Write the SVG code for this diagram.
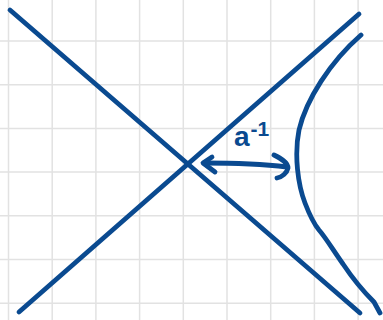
<svg xmlns="http://www.w3.org/2000/svg" width="383" height="320" viewBox="0 0 383 320">
<style>
.grid line{stroke:#e2e2e2;stroke-width:1.5}
.ink{fill:none;stroke:#0a4a90;stroke-width:4.8;stroke-linecap:round;stroke-linejoin:round}
.lbl{font-family:"Liberation Sans",Arial,sans-serif;font-weight:bold;fill:#0a4a90}
</style>
<rect width="383" height="320" fill="#ffffff"/>
<g class="grid" id="grid">
<line x1="8.5" y1="0" x2="8.5" y2="320"/>
<line x1="52.2" y1="0" x2="52.2" y2="320"/>
<line x1="95.9" y1="0" x2="95.9" y2="320"/>
<line x1="139.6" y1="0" x2="139.6" y2="320"/>
<line x1="183.3" y1="0" x2="183.3" y2="320"/>
<line x1="227" y1="0" x2="227" y2="320"/>
<line x1="270.7" y1="0" x2="270.7" y2="320"/>
<line x1="314.4" y1="0" x2="314.4" y2="320"/>
<line x1="358.1" y1="0" x2="358.1" y2="320"/>
<line x1="0" y1="41" x2="383" y2="41"/>
<line x1="0" y1="84.7" x2="383" y2="84.7"/>
<line x1="0" y1="128.4" x2="383" y2="128.4"/>
<line x1="0" y1="172.1" x2="383" y2="172.1"/>
<line x1="0" y1="215.8" x2="383" y2="215.8"/>
<line x1="0" y1="259.5" x2="383" y2="259.5"/>
<line x1="0" y1="303.2" x2="383" y2="303.2"/>
</g>
<g id="asymptote1"><path class="ink" d="M10,10 L360,313"/></g>
<g id="asymptote2"><path class="ink" d="M19,312 L359,14"/></g>
<g id="hyperbola"><path class="ink" d="M361,35 C330,62 306,100 299,130 C294,155 298,185 305,203 C310,216 314,224 319,230 C326,238 333,250 343,264 C353,279 365,293 374,302 L380,313"/></g>
<g id="connectors">
<path class="ink" d="M212,157 L203,163 L215,172"/>
<path class="ink" d="M204,163 C230,163 262,164 287,167"/>
<path class="ink" d="M274,155 C280,158 288,162 288,168 C287,173 282,177 277,178"/>
</g>
<g id="label">
<text class="lbl" x="234" y="146" font-size="28">a<tspan font-size="21" dy="-10" dx="1">-1</tspan></text>
</g>
</svg>
